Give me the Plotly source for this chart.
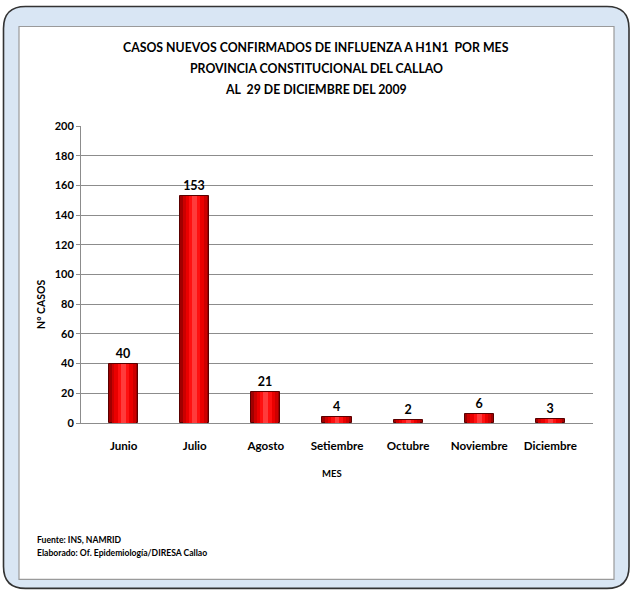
import plotly.graph_objects as go

months = ["Junio", "Julio", "Agosto", "Setiembre", "Octubre", "Noviembre", "Diciembre"]
cases = [40, 153, 21, 4, 2, 6, 3]
y_ticks = [0, 20, 40, 60, 80, 100, 120, 140, 160, 180, 200]

W, H = 632, 591
L, R = 81, 593          # plot area px
T, B = 125.7, 423.3

def px(x):
    return (x - L) / (R - L)

def py(y):
    return (B - y) / (B - T)

FONT = "Lato, Carlito, Calibri, sans-serif"

fig = go.Figure()

layers = [
    (0.41, "#a00000", dict(color="#5a0000", width=1)),
    (0.34, "#cc0000", dict(width=0)),
    (0.26, "#ea0000", dict(width=0)),
    (0.16, "#ff1010", dict(width=0)),
    (0.07, "#ff3b3b", dict(width=0)),
]
for i, (w, c, ln) in enumerate(layers):
    fig.add_trace(go.Bar(
        x=months, y=cases, width=w,
        marker=dict(color=c, line=ln),
        texttemplate="<b>%{y}</b>" if i == 0 else None,
        textposition="outside" if i == 0 else "none",
        textfont=dict(family=FONT, size=12.5, color="black", weight="bold"),
        cliponaxis=False, hoverinfo="skip", showlegend=False,
    ))

def rounded_path(x0, y0, x1, y1, r):
    pts = []
    pts.append(f"M {px(x0 + r)} {py(y0)}")
    pts.append(f"L {px(x1 - r)} {py(y0)}")
    pts.append(f"Q {px(x1)} {py(y0)} {px(x1)} {py(y0 + r)}")
    pts.append(f"L {px(x1)} {py(y1 - r)}")
    pts.append(f"Q {px(x1)} {py(y1)} {px(x1 - r)} {py(y1)}")
    pts.append(f"L {px(x0 + r)} {py(y1)}")
    pts.append(f"Q {px(x0)} {py(y1)} {px(x0)} {py(y1 - r)}")
    pts.append(f"L {px(x0)} {py(y0 + r)}")
    pts.append(f"Q {px(x0)} {py(y0)} {px(x0 + r)} {py(y0)}")
    pts.append("Z")
    return " ".join(pts)

shapes = [
    dict(type="path", xref="paper", yref="paper", layer="below",
         path=rounded_path(3.5, 6, 629, 589, 22),
         fillcolor="#d9e6f4", line=dict(color="#333333", width=1.6)),
    dict(type="rect", xref="paper", yref="paper", layer="below",
         x0=px(19), x1=px(614), y0=py(26), y1=py(580),
         fillcolor="white", line=dict(color="#9a9a9a", width=1.2)),
]

title_lines = [
    ("CASOS NUEVOS CONFIRMADOS DE INFLUENZA A H1N1  POR MES", 47),
    ("PROVINCIA CONSTITUCIONAL DEL CALLAO", 68),
    ("AL  29 DE DICIEMBRE DEL 2009", 89),
]
annotations = []
for txt, yy in title_lines:
    annotations.append(dict(text=f"<b>{txt}</b>", xref="paper", yref="paper",
                            x=px(316), y=py(yy), xanchor="center", yanchor="middle",
                            showarrow=False, font=dict(family=FONT, size=12.3, color="black")))
annotations.append(dict(text="<b>N° CASOS</b>", xref="paper", yref="paper",
                        x=px(41), y=py(305), textangle=-90, xanchor="center", yanchor="middle",
                        showarrow=False, font=dict(family=FONT, size=10.5, color="black")))
annotations.append(dict(text="<b>MES</b>", xref="paper", yref="paper",
                        x=px(332), y=py(474), xanchor="center", yanchor="middle",
                        showarrow=False, font=dict(family=FONT, size=9.5, color="black")))
annotations.append(dict(text="<b>Fuente: INS, NAMRID</b>", xref="paper", yref="paper",
                        x=px(35), y=py(541), xanchor="left", yanchor="middle",
                        showarrow=False, font=dict(family=FONT, size=8.6, color="black")))
annotations.append(dict(text="<b>Elaborado: Of. Epidemiología/DIRESA Callao</b>", xref="paper", yref="paper",
                        x=px(35), y=py(554), xanchor="left", yanchor="middle",
                        showarrow=False, font=dict(family=FONT, size=8.6, color="black")))

fig.update_layout(
    width=W, height=H,
    margin=dict(l=L, r=W - R, t=T, b=H - B, pad=0),
    paper_bgcolor="white", plot_bgcolor="rgba(0,0,0,0)",
    barmode="overlay", bargap=0,
    shapes=shapes, annotations=annotations,
    font=dict(family=FONT, color="black"),
    xaxis=dict(range=[-0.6, 6.6], showline=True, linecolor="#8c8c8c", linewidth=1,
               ticks="outside", ticklen=12, tickcolor="rgba(0,0,0,0)",
               tickfont=dict(family=FONT, size=11.6, color="black", weight="bold"),
               showgrid=False, fixedrange=True),
    yaxis=dict(range=[0, 200], tickvals=y_ticks, showline=True, linecolor="#8c8c8c",
               linewidth=1, ticks="outside", ticklen=4, tickcolor="#8c8c8c",
               gridcolor="#8c8c8c", gridwidth=1, zeroline=False,
               tickfont=dict(family=FONT, size=11, color="black", weight="bold"),
               fixedrange=True),
)

fig.write_html("out.html", config={"displayModeBar": False},
               post_script="document.body.style.margin='0';document.body.style.padding='0';")
